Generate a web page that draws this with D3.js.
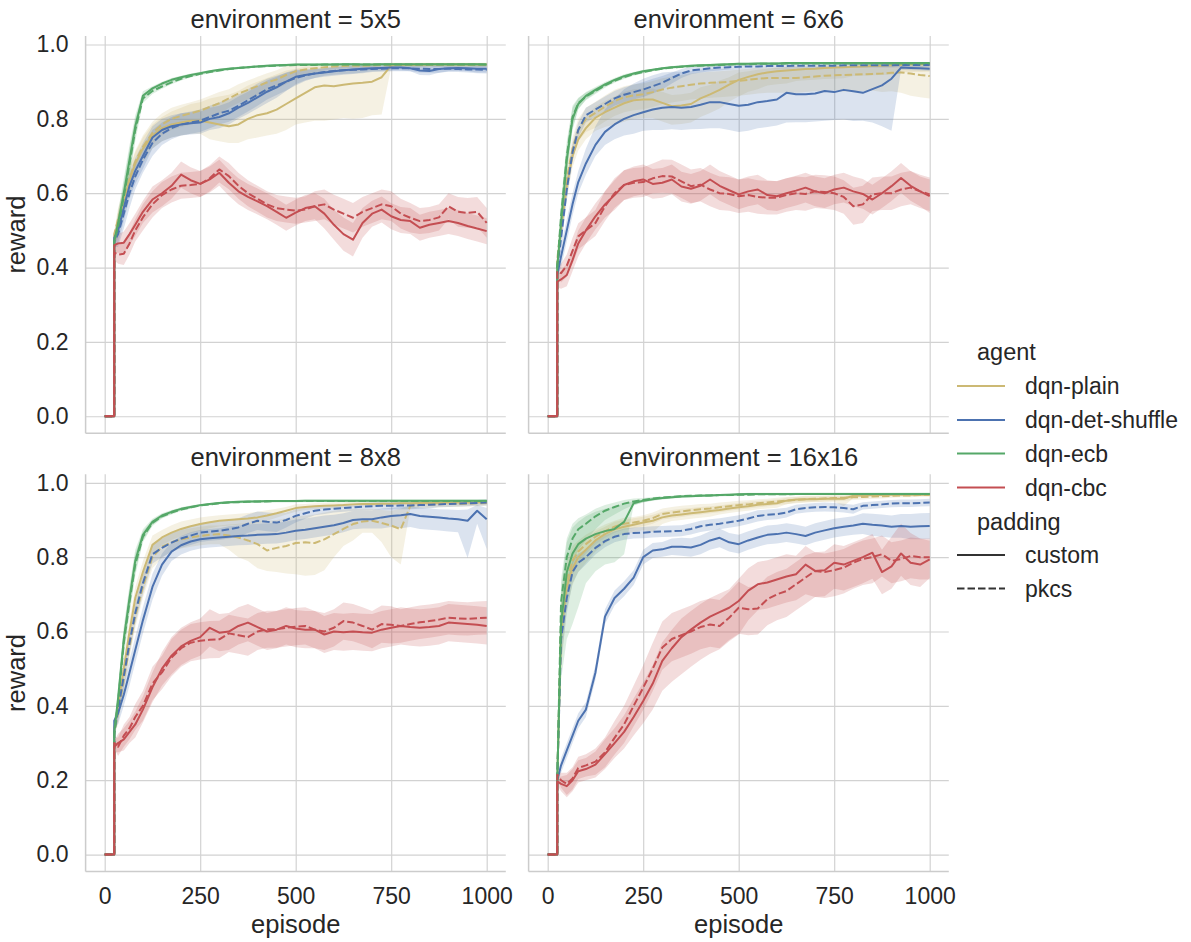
<!DOCTYPE html>
<html>
<head>
<meta charset="utf-8">
<script src="https://cdn.jsdelivr.net/npm/d3@7"></script>
<style>
  body { margin: 0; background: #fff; }
  text { font-family: "Liberation Sans", Arial, sans-serif; fill: #262626; }
</style>
</head>
<body>
<script>
// episodes (the jump at 25 is drawn as a vertical step)
var episodes = [0, 25, 25, 35, 50, 65, 80, 100, 125, 150, 175, 200, 225, 250, 275, 300, 325, 350, 375, 400, 425, 450, 475, 500, 525, 550, 575, 600, 625, 650, 675, 700, 725, 750, 775, 800, 825, 850, 875, 900, 925, 950, 975, 1000];

var environments = ["5x5", "6x6", "8x8", "16x16"];
var agents = ["dqn-plain", "dqn-det-shuffle", "dqn-ecb", "dqn-cbc"];
var paddings = ["custom", "pkcs"];
var agentColors = ["#ccb974", "#4c72b0", "#55a868", "#c44e52"];
var xTicks = [0, 250, 500, 750, 1000];
var yTicks = [0.0, 0.2, 0.4, 0.6, 0.8, 1.0];

// ---------- environment = 5x5 ----------
var m5_plain_c = [0,0,.48,.52,.58,.635,.68,.72, .755,.775,.785,.79,.795,.795,.79,.785,.78,.785, .80,.81,.815,.825,.84,.855,.87,.885,.89,.888, .892,.895,.897,.90,.912,.944,.945,.945,.945,.946, .946,.946,.946,.946,.946,.946];
var dn5_plain_c = [0,0,.01, .03,.04,.04,.04,.04, .035,.035,.035,.035,.035,.035,.045,.045,.045,.05, .055,.06,.06,.065,.07,.07,.08,.09,.095,.09, .09,.095,.095,.09,.10,.005,.005,.005,.005,.005, .005,.005,.005,.005,.005,.005];
var up5_plain_c = [0,0,.01, .03,.03,.03,.03,.03, .03,.03,.035,.04,.045,.05,.065,.075,.085,.09, .09,.09,.095,.095,.09,.08,.07,.055,.05,.055, .05,.048,.046,.044,.025,.004,.004,.004,.004,.004, .004,.004,.004,.004,.004,.004];
var m5_plain_p = [0,0,.49,.53,.585,.64,.685,.725, .762,.785,.80,.808,.815,.822,.832,.842,.855,.868, .878,.888,.898,.906,.918,.928,.933,.936,.939,.941, .942,.943,.943,.944,.944,.945,.945,.945,.945,.945, .945,.945,.945,.945,.945,.945];
var ci5_plain_p = [0,0,.01, .03,.03,.03,.03,.03, .03,.03,.03,.03,.03,.03,.03,.03,.025,.025, .025,.025,.025,.025,.025,.02,.015,.01,.008,.006, .006,.006,.006,.006,.006,.006,.006,.006,.006,.006, .006,.006,.006,.006,.006,.006];
var m5_shuf_c = [0,0,.48,.50,.56,.62,.66,.70, .75,.77,.78,.785,.788,.79,.80,.805,.815,.83, .843,.858,.873,.885,.90,.913,.918,.922,.925,.928, .931,.933,.935,.936,.937,.938,.938,.936,.93,.929, .934,.936,.937,.936,.935,.935];
var ci5_shuf_c = [0,0,.015, .035,.035,.035,.035,.035, .03,.03,.03,.03,.03,.03,.03,.03,.03,.03, .03,.03,.03,.028,.025,.02,.014,.012,.012,.012, .012,.012,.01,.008,.008,.008,.008,.008,.012,.012, .01,.008,.008,.008,.01,.01];
var m5_shuf_p = [0,0,.47,.49,.545,.60,.645,.69, .735,.76,.775,.785,.79,.795,.805,.815,.822,.835, .85,.865,.88,.89,.90,.91,.917,.922,.926,.929, .931,.932,.933,.934,.935,.936,.936,.936,.935,.934, .934,.935,.934,.933,.933,.932];
var ci5_shuf_p = [0,0,.015, .035,.04,.04,.035,.035, .035,.03,.03,.03,.03,.03,.03,.03,.03,.03, .03,.03,.028,.026,.024,.02,.015,.012,.01,.01, .01,.01,.01,.008,.008,.008,.008,.008,.01,.01, .01,.008,.008,.008,.01,.01];
var m5_ecb_c = [0,0,.47,.52,.60,.69,.78,.862, .882,.895,.905,.912,.918,.923,.928,.932,.935,.937, .939,.941,.943,.944,.945,.946,.946,.946,.946,.946, .947,.947,.946,.946,.947,.947,.947,.947,.947,.947, .947,.947,.947,.947,.947,.946];
var ci5_ecb_c = [0,0,.01, .03,.04,.04,.03,.012, .006,.005,.005,.004,.004,.004,.003,.003,.003,.003, .003,.003,.003,.003,.003,.003,.003,.003,.003,.003, .003,.003,.003,.003,.003,.003,.003,.003,.003,.003, .003,.003,.003,.003,.003,.003];
var m5_ecb_p = [0,0,.47,.51,.59,.68,.77,.855, .875,.887,.898,.908,.915,.921,.926,.93,.934,.937, .939,.941,.942,.943,.944,.945,.945,.945,.946,.946, .946,.946,.946,.946,.946,.946,.946,.946,.946,.946, .946,.946,.946,.946,.946,.946];
var ci5_ecb_p = [0,0,.01, .03,.04,.04,.03,.012, .008,.006,.005,.005,.004,.004,.003,.003,.003,.003, .003,.003,.003,.003,.003,.003,.003,.003,.003,.003, .003,.003,.003,.003,.003,.003,.003,.003,.003,.003, .003,.003,.003,.003,.003,.003];
var m5_cbc_c = [0,0,.46,.465,.467,.49,.515,.55, .583,.60,.62,.65,.635,.625,.637,.655,.628,.605, .59,.578,.565,.55,.534,.548,.56,.565,.545,.515, .49,.475,.52,.545,.556,.538,.528,.525,.507,.515, .52,.525,.52,.512,.505,.498];
var ci5_cbc_c = [0,0,.02, .025,.03,.03,.03,.03, .035,.035,.035,.035,.035,.035,.035,.035,.035,.035, .035,.035,.035,.035,.035,.035,.035,.035,.04,.04, .045,.045,.04,.035,.035,.035,.035,.035,.035,.035, .035,.035,.035,.035,.035,.035];
var m5_cbc_p = [0,0,.44,.435,.437,.465,.50,.535, .57,.595,.61,.62,.622,.625,.64,.664,.646,.62, .60,.585,.57,.56,.556,.553,.556,.565,.57,.556, .545,.534,.55,.56,.57,.565,.545,.534,.525,.528, .535,.565,.55,.547,.55,.52];
var ci5_cbc_p = [0,0,.02, .025,.03,.03,.03,.035, .035,.035,.035,.035,.035,.035,.035,.035,.035,.035, .035,.035,.035,.035,.035,.035,.035,.04,.04,.04, .04,.04,.04,.04,.04,.04,.04,.04,.035,.035, .035,.035,.04,.04,.04,.04];

// ---------- environment = 6x6 ----------
var m6_plain_c = [0,0,.41,.50,.62,.70,.745,.775, .803,.818,.83,.842,.85,.852,.852,.843,.834,.836, .84,.855,.866,.878,.892,.905,.913,.92,.925,.928, .93,.932,.934,.935,.937,.938,.939,.94,.941,.942, .943,.944,.945,.946,.946,.947];
var dn6_plain_c = [0,0,.01, .03,.03,.03,.03,.03, .035,.04,.045,.05,.05,.05,.05,.05,.05,.05, .05,.05,.05,.05,.045,.045,.04,.04,.035,.035, .035,.03,.03,.03,.03,.03,.03,.025,.025,.025, .025,.025,.02,.02,.02,.02];
var up6_plain_c = [0,0,.01, .03,.03,.03,.03,.03, .03,.03,.03,.03,.03,.03,.03,.03,.03,.03, .03,.03,.025,.025,.02,.02,.015,.012,.01,.01, .01,.01,.008,.008,.008,.008,.006,.006,.006,.006, .005,.005,.005,.005,.005,.005];
var m6_plain_p = [0,0,.42,.52,.64,.72,.77,.80, .816,.833,.848,.858,.863,.866,.872,.879,.884,.888, .892,.895,.897,.898,.90,.902,.905,.908,.91,.91, .91,.91,.912,.914,.916,.917,.918,.919,.92,.921, .922,.924,.925,.922,.918,.915];
var dn6_plain_p = [0,0,.01, .03,.03,.03,.03,.035, .04,.04,.04,.04,.04,.04,.04,.04,.04,.04, .04,.04,.04,.04,.04,.04,.04,.04,.04,.04, .04,.04,.04,.04,.04,.04,.045,.045,.045,.045, .05,.05,.055,.06,.06,.06];
var up6_plain_p = [0,0,.01, .03,.03,.03,.03,.03, .03,.03,.03,.03,.03,.03,.03,.03,.03,.03, .03,.03,.03,.03,.03,.03,.03,.03,.028,.028, .028,.028,.026,.025,.024,.023,.022,.022,.022,.022, .022,.02,.02,.022,.025,.028];
var m6_shuf_c = [0,0,.38,.43,.50,.57,.63,.68, .73,.765,.785,.80,.81,.818,.825,.83,.832,.83, .832,.838,.845,.845,.84,.835,.838,.845,.848,.852, .87,.866,.866,.868,.875,.872,.878,.874,.87,.88, .89,.908,.938,.937,.936,.935];
var dn6_shuf_c = [0,0,.01, .03,.03,.03,.03,.03, .03,.035,.04,.045,.05,.05,.055,.06,.06,.06, .06,.065,.07,.07,.07,.07,.07,.07,.07,.07, .08,.075,.075,.075,.08,.075,.08,.08,.075,.09, .11,.14,.006,.006,.006,.006];
var up6_shuf_c = [0,0,.01, .03,.03,.03,.03,.04, .05,.06,.07,.08,.085,.09,.092,.095,.095,.097, .097,.095,.09,.09,.095,.10,.097,.09,.088,.085, .068,.072,.072,.07,.065,.068,.063,.068,.072,.062, .052,.035,.006,.006,.006,.006];
var m6_shuf_p = [0,0,.40,.48,.61,.71,.77,.81, .825,.84,.855,.865,.872,.879,.888,.897,.91,.922, .93,.933,.936,.938,.939,.94,.941,.941,.942,.942, .942,.943,.943,.943,.943,.943,.944,.944,.944,.944, .944,.944,.945,.945,.945,.945];
var ci6_shuf_p = [0,0,.01, .03,.03,.025,.02,.02, .02,.02,.02,.02,.02,.02,.02,.018,.015,.012, .01,.008,.008,.008,.006,.006,.006,.006,.006,.006, .006,.006,.006,.006,.006,.006,.006,.006,.006,.006, .006,.006,.006,.006,.006,.006];
var m6_ecb_c = [0,0,.40,.52,.69,.80,.84,.862, .878,.893,.905,.915,.922,.928,.932,.936,.939,.941, .943,.944,.945,.946,.947,.948,.948,.949,.949,.949, .95,.95,.95,.95,.95,.95,.95,.95,.95,.95, .95,.95,.95,.95,.95,.95];
var ci6_ecb_c = [0,0,.01, .04,.04,.03,.015,.01, .008,.006,.005,.005,.004,.004,.003,.003,.003,.003, .003,.003,.003,.003,.003,.003,.003,.003,.003,.003, .003,.003,.003,.003,.003,.003,.003,.003,.003,.003, .003,.003,.003,.003,.003,.003];
var m6_ecb_p = [0,0,.40,.54,.70,.805,.842,.86, .875,.89,.902,.912,.92,.926,.931,.935,.938,.94, .942,.943,.944,.945,.946,.947,.947,.948,.948,.948, .949,.949,.949,.949,.949,.949,.949,.949,.949,.949, .949,.949,.949,.949,.949,.949];
var ci6_ecb_p = [0,0,.01, .04,.04,.03,.015,.01, .008,.006,.005,.005,.004,.004,.003,.003,.003,.003, .003,.003,.003,.003,.003,.003,.003,.003,.003,.003, .003,.003,.003,.003,.003,.003,.003,.003,.003,.003, .003,.003,.003,.003,.003,.003];
var m6_cbc_c = [0,0,.362,.368,.38,.42,.465,.50, .538,.57,.595,.622,.632,.637,.625,.628,.637,.618, .612,.62,.637,.62,.608,.597,.605,.61,.595,.592, .60,.607,.615,.605,.60,.61,.615,.605,.598,.583, .60,.619,.641,.62,.605,.592];
var ci6_cbc_c = [0,0,.015, .025,.03,.03,.035,.035, .035,.035,.04,.04,.04,.04,.04,.04,.04,.04, .04,.04,.04,.04,.04,.04,.04,.04,.04,.04, .04,.04,.04,.04,.04,.04,.04,.04,.04,.04, .04,.04,.04,.04,.04,.045];
var m6_cbc_p = [0,0,.39,.385,.405,.445,.484,.50, .52,.565,.60,.622,.628,.63,.64,.646,.645,.632, .619,.623,.61,.60,.598,.592,.595,.59,.588,.588, .595,.60,.598,.605,.603,.60,.59,.565,.57,.597, .60,.60,.61,.615,.605,.597];
var ci6_cbc_p = [0,0,.015, .025,.03,.035,.035,.035, .035,.04,.04,.04,.04,.04,.04,.045,.045,.045, .045,.045,.045,.045,.045,.045,.045,.045,.045,.045, .045,.045,.045,.045,.045,.045,.045,.05,.05,.045, .045,.045,.045,.045,.045,.045];

// ---------- environment = 8x8 ----------
var m8_plain_c = [0,0,.34,.40,.50,.60,.69,.76, .833,.853,.866,.876,.883,.889,.894,.898,.90,.902, .904,.907,.912,.918,.925,.932,.935,.937,.938,.939, .94,.942,.943,.943,.944,.944,.945,.945,.946,.946, .946,.947,.947,.947,.948,.948];
var ci8_plain_c = [0,0,.01, .03,.03,.03,.03,.03, .025,.02,.02,.02,.018,.018,.016,.015,.015,.015, .015,.015,.014,.012,.01,.01,.008,.008,.008,.008, .007,.007,.007,.007,.006,.006,.006,.006,.006,.006, .006,.006,.006,.006,.006,.006];
var m8_plain_p = [0,0,.33,.38,.47,.56,.64,.72, .80,.828,.84,.848,.853,.857,.86,.862,.858,.853, .845,.835,.818,.825,.83,.838,.84,.838,.848,.862, .876,.889,.896,.898,.892,.885,.875,.938,.94,.941, .942,.943,.943,.944,.945,.946];
var dn8_plain_p = [0,0,.01, .03,.03,.03,.03,.03, .03,.03,.025,.025,.025,.025,.025,.027,.038,.053, .055,.065,.055,.065,.074,.084,.09,.086,.083,.062, .046,.044,.03,.032,.052,.085,.095,.008,.008,.008, .008,.008,.008,.008,.008,.008];
var up8_plain_p = [0,0,.01, .03,.03,.03,.03,.03, .03,.025,.025,.025,.025,.025,.025,.023,.03,.037, .047,.06,.08,.075,.075,.072,.072,.077,.072,.063, .052,.041,.034,.032,.035,.04,.055,.006,.006,.006, .006,.006,.006,.006,.006,.006];
var m8_shuf_c = [0,0,.36,.38,.43,.49,.55,.63, .72,.78,.815,.832,.842,.848,.851,.853,.855,.857, .858,.86,.861,.862,.866,.871,.874,.878,.882,.886, .892,.90,.902,.902,.907,.911,.913,.916,.911,.909, .907,.904,.902,.898,.925,.902];
var dn8_shuf_c = [0,0,.01, .03,.03,.035,.035,.035, .035,.03,.025,.025,.025,.025,.025,.025,.025,.025, .025,.025,.025,.025,.025,.025,.025,.025,.025,.025, .025,.025,.025,.025,.03,.03,.035,.035,.035,.035, .035,.035,.035,.1,.035,.08];
var up8_shuf_c = [0,0,.01, .03,.03,.035,.035,.035, .035,.03,.025,.025,.025,.025,.025,.025,.028,.028, .03,.03,.03,.03,.03,.03,.03,.03,.03,.028, .026,.024,.024,.024,.024,.022,.022,.02,.022,.022, .022,.024,.025,.03,.015,.03];
var m8_shuf_p = [0,0,.33,.39,.48,.57,.65,.73, .808,.825,.839,.85,.858,.866,.869,.871,.875,.88, .89,.898,.895,.893,.90,.911,.918,.925,.928,.93, .932,.934,.936,.937,.938,.938,.939,.939,.94,.941, .942,.943,.944,.945,.946,.947];
var ci8_shuf_p = [0,0,.01, .03,.03,.03,.03,.03, .025,.025,.025,.025,.025,.025,.025,.025,.025,.025, .025,.025,.025,.025,.02,.018,.015,.012,.012,.01, .01,.01,.01,.01,.01,.01,.01,.01,.01,.01, .008,.008,.008,.008,.008,.008];
var m8_ecb_c = [0,0,.33,.42,.58,.69,.79,.86, .895,.912,.922,.93,.935,.94,.943,.946,.948,.949, .95,.95,.951,.951,.951,.951,.952,.952,.952,.952, .952,.952,.952,.952,.952,.952,.952,.952,.952,.952, .952,.952,.952,.952,.952,.952];
var ci8_ecb_c = [0,0,.01, .03,.035,.035,.03,.015, .008,.006,.005,.004,.004,.003,.003,.003,.003,.003, .003,.003,.003,.003,.003,.003,.003,.003,.003,.003, .003,.003,.003,.003,.003,.003,.003,.003,.003,.003, .003,.003,.003,.003,.003,.003];
var m8_ecb_p = [0,0,.32,.41,.57,.68,.78,.855, .892,.91,.92,.928,.934,.939,.942,.945,.947,.948, .949,.95,.95,.951,.951,.951,.951,.951,.951,.951, .951,.951,.951,.951,.951,.951,.951,.951,.951,.951, .951,.951,.951,.951,.951,.951];
var ci8_ecb_p = [0,0,.01, .03,.035,.035,.03,.015, .008,.006,.005,.004,.004,.003,.003,.003,.003,.003, .003,.003,.003,.003,.003,.003,.003,.003,.003,.003, .003,.003,.003,.003,.003,.003,.003,.003,.003,.003, .003,.003,.003,.003,.003,.003];
var m8_cbc_c = [0,0,.29,.30,.31,.33,.35,.39, .45,.50,.535,.56,.575,.585,.61,.597,.60,.615, .624,.612,.60,.605,.615,.608,.605,.605,.592,.60, .598,.60,.598,.597,.605,.61,.615,.612,.61,.612, .615,.624,.622,.62,.618,.615];
var ci8_cbc_c = [0,0,.015, .025,.03,.03,.035,.035, .04,.045,.05,.05,.05,.05,.05,.05,.05,.05, .05,.05,.05,.05,.05,.05,.05,.05,.05,.05, .05,.05,.05,.05,.05,.05,.05,.05,.05,.05, .05,.05,.05,.05,.05,.05];
var m8_cbc_p = [0,0,.30,.29,.32,.34,.37,.40, .46,.49,.53,.555,.57,.575,.578,.579,.595,.59, .585,.60,.606,.606,.61,.613,.615,.605,.60,.61, .628,.624,.615,.605,.62,.618,.615,.62,.625,.628, .632,.637,.635,.634,.636,.637];
var ci8_cbc_p = [0,0,.015, .025,.03,.03,.035,.04, .045,.045,.05,.05,.05,.05,.05,.05,.05,.05, .05,.05,.05,.05,.05,.05,.05,.05,.05,.05, .05,.05,.05,.05,.05,.05,.045,.045,.045,.045, .045,.045,.045,.045,.045,.045];

// ---------- environment = 16x16 ----------
var m16_plain_c = [0,0,.20,.60,.72,.77,.80,.82, .845,.862,.875,.882,.887,.893,.898,.907,.912,.915, .918,.921,.924,.927,.931,.934,.937,.941,.943,.945, .952,.955,.956,.956,.957,.957,.957,.965,.966,.967, .967,.968,.968,.968,.968,.968];
var dn16_plain_c = [0,0,.01, .1,.06,.045,.04,.035, .03,.025,.02,.02,.02,.02,.03,.018,.015,.015, .015,.015,.015,.012,.012,.012,.012,.012,.012,.012, .01,.008,.008,.008,.008,.008,.02,.006,.004,.004, .004,.004,.004,.004,.004,.004];
var up16_plain_c = [0,0,.01, .08,.05,.04,.035,.03, .025,.02,.02,.018,.018,.016,.016,.015,.015,.015, .014,.014,.013,.012,.012,.012,.012,.01,.01,.01, .008,.007,.007,.007,.007,.007,.007,.004,.003,.003, .003,.003,.003,.003,.003,.003];
var m16_plain_p = [0,0,.20,.62,.74,.79,.815,.835, .855,.87,.882,.89,.893,.898,.905,.916,.92,.923, .926,.929,.931,.934,.937,.94,.942,.945,.947,.95, .952,.954,.956,.957,.958,.959,.96,.961,.962,.963, .964,.965,.966,.966,.967,.967];
var ci16_plain_p = [0,0,.01, .08,.05,.04,.03,.025, .02,.018,.016,.016,.015,.015,.015,.015,.015,.015, .014,.014,.013,.013,.012,.012,.011,.011,.01,.01, .01,.009,.009,.008,.008,.008,.008,.007,.007,.006, .006,.005,.005,.005,.004,.004];
var m16_shuf_c = [0,0,.20,.24,.28,.32,.36,.39, .49,.64,.69,.715,.745,.80,.818,.821,.828,.828, .826,.833,.845,.852,.84,.835,.845,.853,.86,.862, .866,.862,.857,.866,.872,.878,.882,.885,.89,.887, .885,.882,.884,.882,.883,.884];
var ci16_shuf_c = [0,0,.01, .02,.02,.02,.02,.02, .02,.02,.02,.02,.02,.02,.02,.02,.022,.024, .025,.025,.025,.025,.025,.025,.025,.025,.025,.025, .025,.025,.025,.025,.025,.025,.025,.025,.028,.03, .03,.03,.032,.034,.035,.035];
var m16_shuf_p = [0,0,.20,.58,.69,.76,.785,.80, .825,.843,.855,.862,.865,.866,.868,.869,.87,.871, .876,.883,.887,.89,.894,.898,.904,.911,.914,.916, .92,.929,.932,.934,.935,.934,.932,.929,.938,.94, .942,.944,.945,.945,.946,.947];
var ci16_shuf_p = [0,0,.01, .06,.04,.03,.025,.02, .018,.016,.015,.015,.015,.015,.015,.015,.015,.015, .015,.015,.015,.015,.015,.015,.015,.015,.014,.014, .013,.012,.012,.012,.012,.012,.012,.012,.01,.01, .01,.01,.01,.01,.01,.01];
var m16_ecb_c = [0,0,.20,.62,.76,.81,.835,.85, .862,.87,.876,.895,.945,.952,.956,.959,.961,.963, .964,.965,.966,.967,.968,.969,.97,.97,.97,.97, .97,.97,.97,.97,.97,.97,.97,.97,.97,.97, .97,.97,.97,.97,.97,.97];
var dn16_ecb_c = [0,0,.01, .15,.18,.19,.17,.12, .10,.09,.09,.087,.006,.005,.004,.004,.003,.003, .003,.003,.003,.003,.003,.003,.003,.003,.003,.003, .003,.003,.003,.003,.003,.003,.003,.003,.003,.003, .003,.003,.003,.003,.003,.003];
var up16_ecb_c = [0,0,.01, .10,.08,.07,.06,.06, .06,.06,.06,.05,.005,.004,.004,.003,.003,.003, .003,.003,.003,.003,.003,.003,.003,.003,.003,.003, .003,.003,.003,.003,.003,.003,.003,.003,.003,.003, .003,.003,.003,.003,.003,.003];
var m16_ecb_p = [0,0,.20,.68,.80,.85,.875,.89, .91,.925,.935,.944,.95,.954,.958,.96,.962,.964, .965,.966,.966,.967,.967,.968,.968,.969,.969,.969, .969,.97,.97,.97,.97,.97,.97,.97,.97,.97, .97,.97,.97,.97,.97,.97];
var dn16_ecb_p = [0,0,.01, .12,.09,.07,.055,.045, .035,.025,.02,.015,.01,.006,.005,.004,.004,.003, .003,.003,.003,.003,.003,.003,.003,.003,.003,.003, .003,.003,.003,.003,.003,.003,.003,.003,.003,.003, .003,.003,.003,.003,.003,.003];
var up16_ecb_p = [0,0,.01, .06,.05,.04,.03,.025, .02,.015,.012,.01,.008,.005,.004,.003,.003,.003, .003,.003,.003,.003,.003,.003,.003,.003,.003,.003, .003,.003,.003,.003,.003,.003,.003,.003,.003,.003, .003,.003,.003,.003,.003,.003];
var m16_cbc_c = [0,0,.197,.19,.184,.20,.224,.23, .242,.27,.30,.33,.37,.413,.46,.521,.555,.585, .605,.624,.64,.652,.664,.682,.71,.727,.732,.74, .748,.754,.78,.763,.765,.785,.78,.79,.80,.812, .76,.775,.81,.785,.78,.794];
var dn16_cbc_c = [0,0,.01, .02,.03,.03,.03,.03, .035,.04,.04,.045,.05,.06,.07,.08,.09,.1, .1,.1,.1,.1,.09,.09,.08,.07,.07,.07, .07,.07,.08,.07,.07,.07,.07,.07,.07,.07, .06,.06,.06,.06,.06,.05];
var up16_cbc_c = [0,0,.01, .02,.03,.03,.03,.03, .035,.04,.04,.045,.05,.05,.05,.05,.05,.05, .05,.05,.05,.05,.05,.06,.06,.06,.06,.06, .06,.05,.05,.05,.05,.05,.05,.05,.05,.05, .06,.08,.08,.08,.07,.05];
var m16_cbc_p = [0,0,.215,.20,.19,.205,.233,.24, .25,.275,.314,.35,.40,.449,.50,.557,.58,.59, .60,.612,.619,.615,.637,.664,.66,.662,.687,.70, .709,.727,.745,.763,.76,.765,.772,.785,.795,.80, .808,.79,.795,.803,.80,.80];
var dn16_cbc_p = [0,0,.01, .02,.03,.03,.03,.03, .035,.04,.045,.05,.055,.06,.06,.06,.06,.06, .06,.06,.06,.06,.06,.07,.07,.07,.07,.07, .07,.07,.07,.07,.07,.07,.07,.07,.07,.07, .06,.06,.06,.06,.06,.06];
var up16_cbc_p = [0,0,.01, .02,.03,.03,.03,.03, .035,.04,.045,.05,.055,.06,.07,.07,.07,.07, .07,.07,.07,.07,.07,.07,.06,.06,.06,.06, .06,.06,.06,.05,.05,.05,.05,.05,.05,.05, .05,.05,.05,.05,.05,.05];

// table: environment, agent index, padding index, mean, band below, band above
var table = [
  ["5x5", 0, 0, m5_plain_c, dn5_plain_c, up5_plain_c],
  ["5x5", 0, 1, m5_plain_p, ci5_plain_p, ci5_plain_p],
  ["5x5", 1, 0, m5_shuf_c, ci5_shuf_c, ci5_shuf_c],
  ["5x5", 1, 1, m5_shuf_p, ci5_shuf_p, ci5_shuf_p],
  ["5x5", 2, 0, m5_ecb_c, ci5_ecb_c, ci5_ecb_c],
  ["5x5", 2, 1, m5_ecb_p, ci5_ecb_p, ci5_ecb_p],
  ["5x5", 3, 0, m5_cbc_c, ci5_cbc_c, ci5_cbc_c],
  ["5x5", 3, 1, m5_cbc_p, ci5_cbc_p, ci5_cbc_p],
  ["6x6", 0, 0, m6_plain_c, dn6_plain_c, up6_plain_c],
  ["6x6", 0, 1, m6_plain_p, dn6_plain_p, up6_plain_p],
  ["6x6", 1, 0, m6_shuf_c, dn6_shuf_c, up6_shuf_c],
  ["6x6", 1, 1, m6_shuf_p, ci6_shuf_p, ci6_shuf_p],
  ["6x6", 2, 0, m6_ecb_c, ci6_ecb_c, ci6_ecb_c],
  ["6x6", 2, 1, m6_ecb_p, ci6_ecb_p, ci6_ecb_p],
  ["6x6", 3, 0, m6_cbc_c, ci6_cbc_c, ci6_cbc_c],
  ["6x6", 3, 1, m6_cbc_p, ci6_cbc_p, ci6_cbc_p],
  ["8x8", 0, 0, m8_plain_c, ci8_plain_c, ci8_plain_c],
  ["8x8", 0, 1, m8_plain_p, dn8_plain_p, up8_plain_p],
  ["8x8", 1, 0, m8_shuf_c, dn8_shuf_c, up8_shuf_c],
  ["8x8", 1, 1, m8_shuf_p, ci8_shuf_p, ci8_shuf_p],
  ["8x8", 2, 0, m8_ecb_c, ci8_ecb_c, ci8_ecb_c],
  ["8x8", 2, 1, m8_ecb_p, ci8_ecb_p, ci8_ecb_p],
  ["8x8", 3, 0, m8_cbc_c, ci8_cbc_c, ci8_cbc_c],
  ["8x8", 3, 1, m8_cbc_p, ci8_cbc_p, ci8_cbc_p],
  ["16x16", 0, 0, m16_plain_c, dn16_plain_c, up16_plain_c],
  ["16x16", 0, 1, m16_plain_p, ci16_plain_p, ci16_plain_p],
  ["16x16", 1, 0, m16_shuf_c, ci16_shuf_c, ci16_shuf_c],
  ["16x16", 1, 1, m16_shuf_p, ci16_shuf_p, ci16_shuf_p],
  ["16x16", 2, 0, m16_ecb_c, dn16_ecb_c, up16_ecb_c],
  ["16x16", 2, 1, m16_ecb_p, dn16_ecb_p, up16_ecb_p],
  ["16x16", 3, 0, m16_cbc_c, dn16_cbc_c, up16_cbc_c],
  ["16x16", 3, 1, m16_cbc_p, dn16_cbc_p, up16_cbc_p]
];

table.forEach(function(t, k) {
  [3, 4, 5].forEach(function(j) {
    if (t[j].length !== episodes.length) throw new Error("row " + k + " col " + j + " has " + t[j].length);
  });
});

// layout of the 2x2 grid of axes
var panelW = 420.2, panelH = 397.3;
var panelX = [85.6, 528.6], panelY = [36, 474.3];

var x = d3.scaleLinear().domain([-50, 1050]).range([0, panelW]);
var y = d3.scaleLinear().domain([-0.0458, 1.0229]).range([panelH, 0]);

var svg = d3.select("body").append("svg")
    .attr("width", 1191)
    .attr("height", 942);

var line = d3.line()
    .x(function(d) { return x(d.e); })
    .y(function(d) { return y(d.v); });

var band = d3.area()
    .x(function(d) { return x(d.e); })
    .y0(function(d) { return y(d.lo); })
    .y1(function(d) { return y(d.hi); });

environments.forEach(function(env, p) {
  var col = p % 2, row = Math.floor(p / 2);
  var g = svg.append("g")
      .attr("transform", "translate(" + panelX[col] + "," + panelY[row] + ")");

  // grid lines through the axes
  var gx = g.append("g")
      .attr("transform", "translate(0," + panelH + ")")
      .call(d3.axisBottom(x).tickValues(xTicks).tickSize(-panelH).tickPadding(16).tickFormat(d3.format("d")));
  var gy = g.append("g")
      .call(d3.axisLeft(y).tickValues(yTicks).tickSize(-panelW).tickPadding(17).tickFormat(d3.format(".1f")));
  [gx, gy].forEach(function(a) {
    a.select(".domain").remove();
    a.selectAll("line").style("stroke", "#d2d2d2").style("stroke-width", "1.2");
    a.selectAll("text").style("font-size", "23px").style("fill", "#262626");
  });
  if (row === 0) gx.selectAll("text").remove();
  if (col === 1) gy.selectAll("text").remove();

  // spines
  g.append("line").attr("x1", 0).attr("x2", 0).attr("y1", 0).attr("y2", panelH)
      .style("stroke", "#cccccc").style("stroke-width", "1.5");
  g.append("line").attr("x1", 0).attr("x2", panelW).attr("y1", panelH).attr("y2", panelH)
      .style("stroke", "#cccccc").style("stroke-width", "1.5");

  g.append("clipPath").attr("id", "clip" + p)
    .append("rect").attr("width", panelW).attr("height", panelH);
  var plot = g.append("g").attr("clip-path", "url(#clip" + p + ")");

  var rows = table.filter(function(t) { return t[0] === env; }).map(function(t) {
    return {
      agent: t[1],
      pad: t[2],
      pts: episodes.map(function(e, i) {
        return { e: e, v: t[3][i], lo: t[3][i] - t[4][i], hi: t[3][i] + t[5][i] };
      })
    };
  });

  // bands under all lines
  rows.forEach(function(r) {
    plot.append("path")
        .datum(r.pts)
        .attr("d", band)
        .style("fill", agentColors[r.agent])
        .style("fill-opacity", 0.2)
        .style("stroke", "none");
  });
  rows.forEach(function(r) {
    plot.append("path")
        .datum(r.pts)
        .attr("d", line)
        .style("fill", "none")
        .style("stroke", agentColors[r.agent])
        .style("stroke-width", "2")
        .style("stroke-linejoin", "round")
        .style("stroke-dasharray", r.pad === 1 ? "7.5,3" : null);
  });

  // panel title
  g.append("text")
      .attr("x", panelW / 2)
      .attr("y", -8.5)
      .attr("text-anchor", "middle")
      .style("font-size", "25.5px")
      .text("environment = " + env);

  if (col === 0) {
    g.append("text")
        .attr("transform", "translate(" + (-61) + "," + (panelH / 2) + ") rotate(-90)")
        .attr("text-anchor", "middle")
        .style("font-size", "25.5px")
        .text("reward");
  }
  if (row === 1) {
    g.append("text")
        .attr("x", panelW / 2)
        .attr("y", panelH + 61)
        .attr("text-anchor", "middle")
        .style("font-size", "25.5px")
        .text("episode");
  }
});

// legend on the right
var leg = svg.append("g");
var legY = [352, 386, 420, 453.5, 487.5, 521.5, 555, 588.5];
leg.append("text").attr("x", 977).attr("y", legY[0]).attr("dy", "0.35em")
    .style("font-size", "23.5px").text("agent");
agents.forEach(function(a, i) {
  leg.append("line").attr("x1", 957).attr("x2", 1005).attr("y1", legY[i + 1]).attr("y2", legY[i + 1])
      .style("stroke", agentColors[i]).style("stroke-width", "2");
  leg.append("text").attr("x", 1025).attr("y", legY[i + 1]).attr("dy", "0.35em")
      .style("font-size", "23px").text(a);
});
leg.append("text").attr("x", 977).attr("y", legY[5]).attr("dy", "0.35em")
    .style("font-size", "23.5px").text("padding");
paddings.forEach(function(pd, i) {
  leg.append("line").attr("x1", 957).attr("x2", 1005).attr("y1", legY[6 + i]).attr("y2", legY[6 + i])
      .style("stroke", "#333333").style("stroke-width", "2")
      .style("stroke-dasharray", i === 1 ? "7.5,3" : null);
  leg.append("text").attr("x", 1025).attr("y", legY[6 + i]).attr("dy", "0.35em")
      .style("font-size", "23px").text(pd);
});
</script>
</body>
</html>
